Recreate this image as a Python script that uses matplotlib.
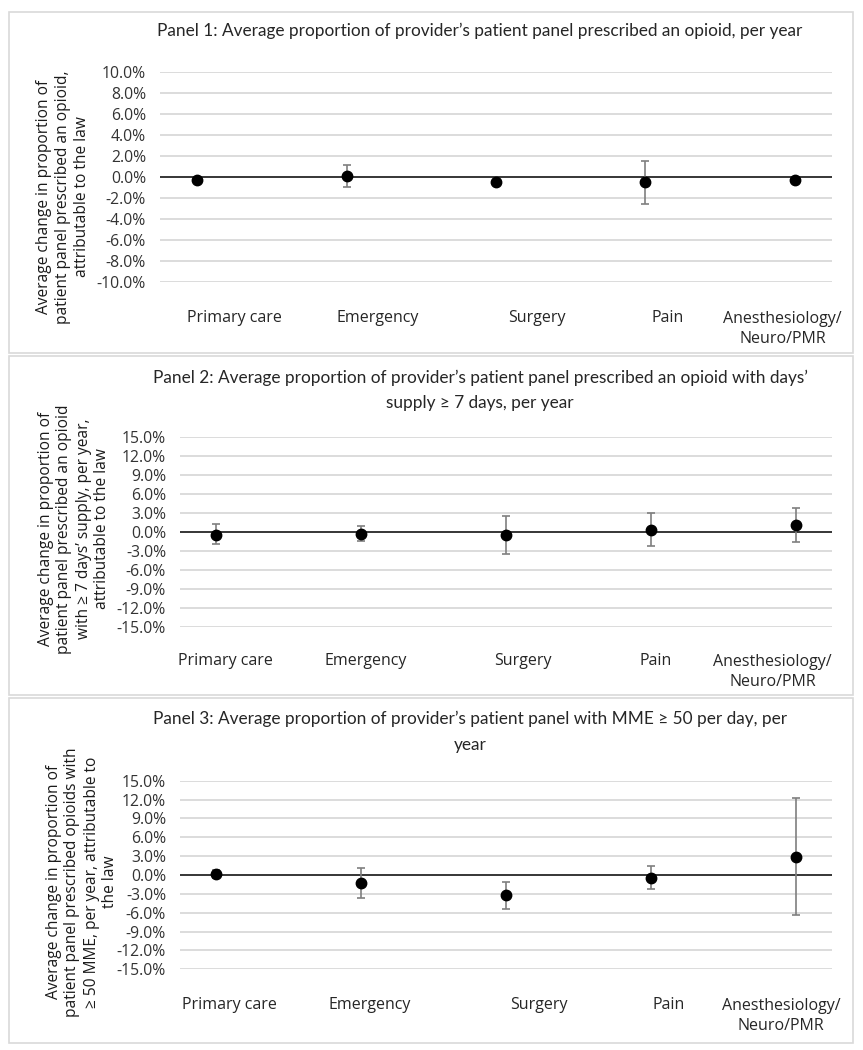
import numpy as np
import matplotlib.pyplot as plt
from matplotlib.patches import Rectangle
from matplotlib.ticker import FuncFormatter

# data (percent)
categories = ["Primary care", "Emergency", "Surgery", "Pain", "Anesthesiology/\nNeuro/PMR"]

p1_mean = [-0.3, 0.1, -0.5, -0.5, -0.25]
p1_low = [-0.45, -0.95, -0.7, -2.6, -0.45]
p1_high = [-0.15, 1.1, -0.3, 1.5, -0.05]

p2_mean = [-0.5, -0.3, -0.6, 0.3, 1.0]
p2_low = [-2.0, -1.5, -3.5, -2.2, -1.6]
p2_high = [1.2, 0.9, 2.5, 3.0, 3.7]

p3_mean = [0.2, -1.3, -3.2, -0.4, 2.9]
p3_low = [-0.4, -3.6, -5.4, -2.2, -6.3]
p3_high = [0.8, 1.1, -1.1, 1.5, 12.2]

titles = [
    "Panel 1: Average proportion of provider\u2019s patient panel prescribed an opioid, per year",
    "Panel 2: Average proportion of provider\u2019s patient panel prescribed an opioid with days\u2019\nsupply \u2265 7 days, per year",
    "Panel 3: Average proportion of provider\u2019s patient panel with MME \u2265 50 per day, per\nyear",
]
ylabels = [
    "Average change in proportion of\npatient panel prescribed an opioid,\nattributable to the law",
    "Average change in proportion of\npatient panel prescribed an opioid\nwith \u2265 7 days\u2019 supply, per year,\nattributable to the law",
    "Average change in proportion of\npatient panel prescribed opioids with\n\u2265 50 MME, per year, attributable to\nthe law",
]

W, H = 863, 1050
fig = plt.figure(figsize=(W / 100, H / 100), dpi=100)
fig.patch.set_facecolor("white")

title_font = ["Lato", "DejaVu Sans"]
body_font = ["Open Sans", "DejaVu Sans"]

# layout in pixels: axes box (x0, x1, ytop, ybottom), panel box (y0, y1)
panels = [
    dict(mean=p1_mean, low=p1_low, high=p1_high, lim=10, step=2,
         ax=(160, 832, 72, 282), box=(12, 353), title_y=[31], title_x=480,
         ylab_x=63, ylab_y=197, lab_x=[1.246, 2.21, 3.275, 4.152, 4.92], lab_y=318),
    dict(mean=p2_mean, low=p2_low, high=p2_high, lim=15, step=3,
         ax=(180, 832, 436.7, 626.7), box=(356, 695), title_y=[378, 403], title_x=480,
         ylab_x=74, ylab_y=529, lab_x=[1.067, 2.03, 3.117, 4.035, 4.84], lab_y=661),
    dict(mean=p3_mean, low=p3_low, high=p3_high, lim=15, step=3,
         ax=(180, 832, 780.7, 969.3), box=(698, 1043), title_y=[719, 745], title_x=470,
         ylab_x=82, ylab_y=882, lab_x=[1.088, 2.06, 3.23, 4.12, 4.90], lab_y=1005),
]

for i, p in enumerate(panels):
    # panel frame
    y0, y1 = p["box"]
    fig.patches.append(Rectangle((9 / W, 1 - y1 / H), 844 / W, (y1 - y0) / H,
                                 transform=fig.transFigure, fill=False,
                                 edgecolor="#d9d9d9", linewidth=1.2))
    x0, x1, yt, yb = p["ax"]
    ax = fig.add_axes([x0 / W, 1 - yb / H, (x1 - x0) / W, (yb - yt) / H])
    x = np.arange(1, 6)
    mean = np.array(p["mean"])
    yerr = [mean - np.array(p["low"]), np.array(p["high"]) - mean]
    ax.set_xlim(0.75, 5.25)
    ax.set_ylim(-p["lim"], p["lim"])
    ticks = np.arange(-p["lim"], p["lim"] + 0.01, p["step"])
    ax.set_yticks(ticks)
    for t in ticks:
        if abs(t) > 1e-9:
            ax.axhline(t, color="#d9d9d9", linewidth=1.3, zorder=0)
    ax.axhline(0, color="#262626", linewidth=1.3, zorder=1)
    ax.errorbar(x, mean, yerr=yerr, fmt="none", ecolor="#7f7f7f",
                elinewidth=1.2, capsize=3.2, capthick=1.2, zorder=2)
    ax.plot(x, mean, "o", color="black", markersize=7.5, zorder=3)
    for s in ax.spines.values():
        s.set_visible(False)
    ax.set_xticks([])
    ax.tick_params(axis="y", length=0, pad=10, labelsize=11.3, labelcolor="#333333")
    ax.yaxis.set_major_formatter(FuncFormatter(lambda v, pos: f"{v:.1f}%"))
    for lbl in ax.get_yticklabels():
        lbl.set_family(body_font)
    # category labels
    for cx, c in zip(p["lab_x"], categories):
        fx = (x0 + (cx - 0.75) / 4.5 * (x1 - x0)) / W
        ty = p["lab_y"]
        if "\n" in c:
            ty = p["lab_y"] + 11
        fig.text(fx, 1 - ty / H, c, ha="center", va="center", fontsize=11.5,
                 family=body_font, color="#262626", linespacing=1.3)
    # titles
    for ln, ty in zip(titles[i].split("\n"), p["title_y"]):
        fig.text(p["title_x"] / W, 1 - ty / H, ln, ha="center", va="center",
                 fontsize=12.4, family=title_font, color="#262626")
    fig.text(p["ylab_x"] / W, 1 - p["ylab_y"] / H, ylabels[i], rotation=90,
             ha="center", va="center", fontsize=11.2, family=body_font,
             color="#1a1a1a", linespacing=1.25, multialignment="center")

fig.savefig("out.png", dpi=100)
